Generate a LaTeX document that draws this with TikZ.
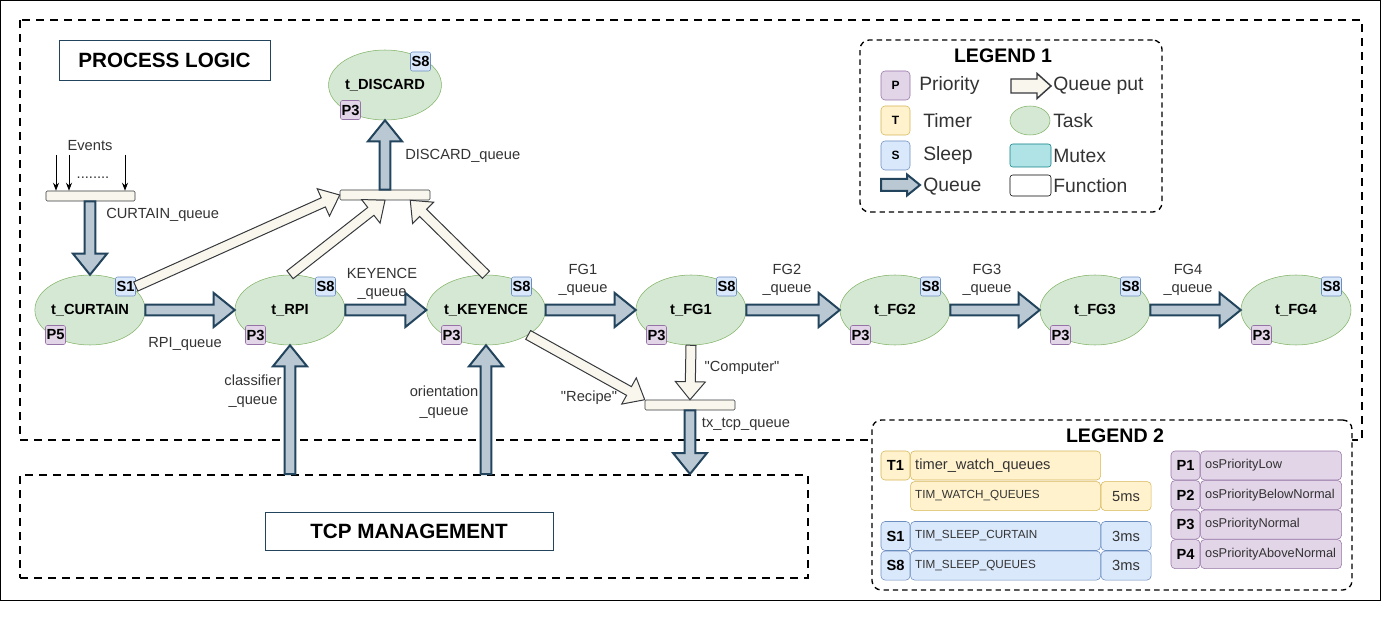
\documentclass[tikz,border=0pt]{standalone}
\usepackage{fontspec}
\setmainfont{Liberation Sans}
\usetikzlibrary{arrows.meta, positioning, calc, shapes.geometric}

\definecolor{TaskFill}{HTML}{D5E8D4}
\definecolor{TaskLine}{HTML}{82B366}
\definecolor{SleepFill}{HTML}{DAE8FC}
\definecolor{SleepLine}{HTML}{6C8EBF}
\definecolor{PrioFill}{HTML}{E1D5E7}
\definecolor{PrioLine}{HTML}{9673A6}
\definecolor{TimerFill}{HTML}{FFF2CC}
\definecolor{TimerLine}{HTML}{D6B656}
\definecolor{QueueFill}{HTML}{BAC8D3}
\definecolor{QueueLine}{HTML}{23445D}
\definecolor{PutFill}{HTML}{F9F7ED}
\definecolor{PutLine}{HTML}{36393D}
\definecolor{MutexFill}{HTML}{B0E3E6}
\definecolor{MutexLine}{HTML}{0E8088}
\definecolor{LabelGrey}{HTML}{333333}

% block arrow: style, from, to, shaft half width, head half width, head length
\newcommand{\fatarrow}[6]{%
  \coordinate (fa-a) at #2;
  \coordinate (fa-b) at #3;
  \coordinate (fa-h) at ($(fa-b)!#6!(fa-a)$);
  \draw[#1] ($(fa-a)!#4!90:(fa-b)$) -- ($(fa-h)!#4!-90:(fa-a)$) -- ($(fa-h)!#5!-90:(fa-a)$)
    -- (fa-b) -- ($(fa-h)!#5!90:(fa-a)$) -- ($(fa-h)!#4!90:(fa-a)$)
    -- ($(fa-a)!#4!-90:(fa-b)$) -- cycle;}
\newcommand{\qarrow}[2]{\fatarrow{queue}{#1}{#2}{4.1pt}{12.75pt}{15.75pt}}
\newcommand{\parrow}[2]{\fatarrow{qput}{#1}{#2}{3.75pt}{11.25pt}{13.5pt}}

\begin{document}
\begin{tikzpicture}[x=0.75pt, y=-0.75pt, >=Stealth,
  task/.style={ellipse, draw=TaskLine, fill=TaskFill, minimum width=82.5pt,
               minimum height=52.5pt, inner sep=0pt, font=\fontsize{11}{13}\selectfont\bfseries},
  badge/.style={rectangle, rounded corners=1.5pt, minimum width=15pt, minimum height=14.25pt,
                inner sep=0pt, font=\fontsize{11}{13}\selectfont\bfseries},
  sbadge/.style={badge, draw=SleepLine, fill=SleepFill},
  pbadge/.style={badge, draw=PrioLine, fill=PrioFill},
  func/.style={rectangle, draw=PutLine, fill=PutFill, rounded corners=1pt,
               minimum width=67.5pt, minimum height=7.5pt, inner sep=0pt},
  lbl/.style={font=\fontsize{11}{14}\selectfont, text=LabelGrey, inner sep=0pt, align=center},
  ltext/.style={font=\fontsize{14.5}{17}\selectfont, text=LabelGrey, inner sep=0pt, anchor=west},
  title/.style={rectangle, draw=QueueLine, fill=white, inner sep=0pt,
                font=\fontsize{15.5}{18}\selectfont\bfseries},
  legtitle/.style={inner sep=0pt, font=\fontsize{14.7}{17}\selectfont\bfseries},
  area/.style={draw, line width=1.5pt, dash pattern=on 6pt off 4.5pt},
  legend/.style={draw, line width=1pt, dash pattern=on 4pt off 3pt, rounded corners=7pt,
                 fill=white, inner sep=0pt},
  queue/.style={draw=QueueLine, fill=QueueFill, line width=1.5pt},
  qput/.style={draw=PutLine, fill=PutFill, line width=0.75pt},
  lbadge/.style={rectangle, rounded corners=3pt, minimum size=21.75pt, inner sep=0pt,
                 font=\fontsize{9}{10}\selectfont\bfseries},
  cell/.style={rectangle, rounded corners=3pt, inner sep=0pt, minimum height=21.75pt,
               font=\fontsize{11}{13}\selectfont, text=LabelGrey},
  ycell/.style={cell, draw=TimerLine, fill=TimerFill},
  bcell/.style={cell, draw=SleepLine, fill=SleepFill},
  pcell/.style={cell, draw=PrioLine, fill=PrioFill},
  keycell/.style={minimum width=21.75pt, text=black, font=\fontsize{11}{13}\selectfont\bfseries},
  namecell/.style={text width=#1, align=left, inner xsep=3.5pt},
  mscell/.style={minimum width=37.5pt},
  timfont/.style={font=\fontsize{8.8}{10}\selectfont},
  osfont/.style={font=\fontsize{9.6}{11}\selectfont}]

\useasboundingbox (0,0) rectangle (1382,631);
\draw[line width=0.75pt] (0.5,0.5) rectangle (1380,600);

% areas and legends
\draw[area] (20,20) rectangle (1362,440);
\node[area, minimum width=591pt, minimum height=77.25pt, inner sep=0pt] (tcp) at (414,526.5) {};
\node[legend, minimum width=226.5pt, minimum height=129pt] (leg1) at (1011,126) {};
\node[legend, minimum width=360pt, minimum height=127.5pt] (leg2) at (1112,505) {};

\node[title, minimum width=158.25pt, minimum height=30pt] (plogic) at (164.5,60) {PROCESS LOGIC};
\node[title, minimum width=216pt, minimum height=28.5pt] (tcpmgmt) at (409,531) {TCP MANAGEMENT};

% function boxes
\node[func, minimum width=66.75pt] (efunc) at (90.5,196) {};
\node[func] (dfunc) at (385,195) {};
\node[func] (tfunc) at (690,405) {};

% tasks
\node[task] (discard) at (385,85) {t\_DISCARD};
\node[sbadge] (discardS) at ([shift={(35.5,-23.5)}]discard.center) {S8};
\node[pbadge] (discardP) at ([shift={(-34.5,25)}]discard.center) {P3};

\node[task] (curtain) at (90,310) {t\_CURTAIN};
\node[sbadge] (curtainS) at ([shift={(35.5,-23.5)}]curtain.center) {S1};
\node[pbadge] (curtainP) at ([shift={(-34.5,25)}]curtain.center) {P5};

\node[task] (rpi) at (290,310) {t\_RPI};
\node[sbadge] (rpiS) at ([shift={(35.5,-23.5)}]rpi.center) {S8};
\node[pbadge] (rpiP) at ([shift={(-34.5,25)}]rpi.center) {P3};

\node[task] (keyence) at (486,310) {t\_KEYENCE};
\node[sbadge] (keyenceS) at ([shift={(35.5,-23.5)}]keyence.center) {S8};
\node[pbadge] (keyenceP) at ([shift={(-34.5,25)}]keyence.center) {P3};

\node[task] (fg1) at (691,310) {t\_FG1};
\node[sbadge] (fg1S) at ([shift={(35.5,-23.5)}]fg1.center) {S8};
\node[pbadge] (fg1P) at ([shift={(-34.5,25)}]fg1.center) {P3};

\node[task] (fg2) at (895,310) {t\_FG2};
\node[sbadge] (fg2S) at ([shift={(35.5,-23.5)}]fg2.center) {S8};
\node[pbadge] (fg2P) at ([shift={(-34.5,25)}]fg2.center) {P3};

\node[task] (fg3) at (1095,310) {t\_FG3};
\node[sbadge] (fg3S) at ([shift={(35.5,-23.5)}]fg3.center) {S8};
\node[pbadge] (fg3P) at ([shift={(-34.5,25)}]fg3.center) {P3};

\node[task] (fg4) at (1296,310) {t\_FG4};
\node[sbadge] (fg4S) at ([shift={(35.5,-23.5)}]fg4.center) {S8};
\node[pbadge] (fg4P) at ([shift={(-34.5,25)}]fg4.center) {P3};

% events
\coordinate (ev1) at (56,155);
\coordinate (ev2) at (69,155);
\coordinate (ev3) at (125,155);
\draw[-{Stealth[length=6pt,width=4.5pt]}, line width=0.75pt] (ev1) -- (ev1 |- efunc.north);
\draw[-{Stealth[length=6pt,width=4.5pt]}, line width=0.75pt] (ev2) -- (ev2 |- efunc.north);
\draw[-{Stealth[length=6pt,width=4.5pt]}, line width=0.75pt] (ev3) -- (ev3 |- efunc.north);
\node[lbl] (events) at (90,146) {Events};
\node[lbl, anchor=base] (evdots) at (93,179) {........};

% queues
\qarrow{(curtain.north |- efunc.south)}{(curtain.north)}
\qarrow{(dfunc.north)}{(discard.south)}
\qarrow{(curtain.east)}{(rpi.west)}
\qarrow{(rpi.east)}{(keyence.west)}
\qarrow{(keyence.east)}{(fg1.west)}
\qarrow{(fg1.east)}{(fg2.west)}
\qarrow{(fg2.east)}{(fg3.west)}
\qarrow{(fg3.east)}{(fg4.west)}
\qarrow{(rpi.south |- tcp.north)}{(rpi.south)}
\qarrow{(keyence.south |- tcp.north)}{(keyence.south)}
\qarrow{(tfunc.south)}{(tfunc.south |- tcp.north)}

% queue puts
\parrow{(curtainS.east)}{(dfunc.west)}
\parrow{(rpi.north)}{(dfunc.south)}
\parrow{(keyence.north)}{([xshift=-15pt]dfunc.south east)}
\parrow{(keyence.south east)}{(tfunc.north west)}
\parrow{(fg1.south)}{(tfunc.north)}

% queue labels
\node[lbl, anchor=west] (curtainq) at (106,215) {CURTAIN\_queue};
\node[lbl, anchor=west] (discardq) at (405,156) {DISCARD\_queue};
\node[lbl] (rpiq) at (185,344) {RPI\_queue};
\node[lbl] (keyenceq) at (382,284) {KEYENCE\\\_queue};
\node[lbl] (fg1q) at (583,280) {FG1\\\_queue};
\node[lbl] (fg2q) at (787,280) {FG2\\\_queue};
\node[lbl] (fg3q) at (987,280) {FG3\\\_queue};
\node[lbl] (fg4q) at (1188,280) {FG4\\\_queue};
\node[lbl] (classq) at (253,391) {classifier\\\_queue};
\node[lbl] (orientq) at (444,402) {orientation\\\_queue};
\node[lbl] (computer) at (742,368) {\textquotedbl Computer\textquotedbl};
\node[lbl] (recipe) at (589,398) {\textquotedbl Recipe\textquotedbl};
\node[lbl] (txq) at (746,424) {tx\_tcp\_queue};

% legend 1
\node[legtitle] (leg1title) at (1003,56) {LEGEND 1};
\node[lbadge, draw=PrioLine, fill=PrioFill] (lgP) at (895.5,85.5) {P};
\node[lbadge, draw=TimerLine, fill=TimerFill] (lgT) at (895.5,120.5) {T};
\node[lbadge, draw=SleepLine, fill=SleepFill] (lgS) at (895.5,155.5) {S};
\coordinate (lgq1) at (881,185);
\coordinate (lgq2) at (920,185);
\fatarrow{queue}{(lgq1)}{(lgq2)}{4.5pt}{7.9pt}{9.75pt}
\node[ltext] (lgPt) at (919,86) {Priority};
\node[ltext] (lgTt) at (923,121) {Timer};
\node[ltext] (lgSt) at (923,156) {Sleep};
\node[ltext] (lgqt) at (923,187) {Queue};

\coordinate (lgp1) at (1011,86);
\coordinate (lgp2) at (1051,86);
\fatarrow{qput, line width=1.1pt}{(lgp1)}{(lgp2)}{5.25pt}{9.4pt}{10.5pt}
\node[task, minimum width=30pt, minimum height=21.75pt] (lgtask) at (1030,120.5) {};
\node[rectangle, rounded corners=2pt, draw=MutexLine, fill=MutexFill, minimum width=30.75pt,
      minimum height=17.25pt] (lgmutex) at (1030.5,155.5) {};
\node[rectangle, rounded corners=2pt, draw, fill=white, minimum width=30.75pt,
      minimum height=15.75pt] (lgfunc) at (1030.5,185.5) {};
\node[ltext] (lgpt) at (1053,86) {Queue put};
\node[ltext] (lgtaskt) at (1053,121) {Task};
\node[ltext] (lgmutext) at (1053,156) {Mutex};
\node[ltext] (lgfunct) at (1053,186) {Function};

% legend 2
\node[legtitle] (leg2title) at (1115,436) {LEGEND 2};
\node[ycell, keycell] (t1) at (895.5,465.5) {T1};
\node[ycell, namecell=135.5pt, right=0pt of t1] (twq) {timer\_watch\_queues};
\node[ycell, namecell=135.5pt, timfont, below=0.75pt of twq] (twqc) {TIM\_WATCH\_QUEUES};
\node[ycell, mscell, right=0pt of twqc] (twqms) {5ms};

\node[bcell, keycell] (s1) at (895.5,536) {S1};
\node[bcell, namecell=135.5pt, timfont, right=0pt of s1] (tsc) {TIM\_SLEEP\_CURTAIN};
\node[bcell, mscell, right=0pt of tsc] (tscms) {3ms};
\node[bcell, keycell, below=0pt of s1] (s8) {S8};
\node[bcell, namecell=135.5pt, timfont, right=0pt of s8] (tsq) {TIM\_SLEEP\_QUEUES};
\node[bcell, mscell, right=0pt of tsq] (tsqms) {3ms};

\node[pcell, keycell] (p1) at (1185.5,465.5) {P1};
\node[pcell, namecell=98.75pt, osfont, inner xsep=3.5pt, right=0pt of p1] (p1n) {osPriorityLow};
\node[pcell, keycell, below=0pt of p1] (p2) {P2};
\node[pcell, namecell=98.75pt, osfont, right=0pt of p2] (p2n) {osPriorityBelowNormal};
\node[pcell, keycell, below=0pt of p2] (p3) {P3};
\node[pcell, namecell=98.75pt, osfont, right=0pt of p3] (p3n) {osPriorityNormal};
\node[pcell, keycell, below=0pt of p3] (p4) {P4};
\node[pcell, namecell=98.75pt, osfont, right=0pt of p4] (p4n) {osPriorityAboveNormal};
\end{tikzpicture}
\end{document}
